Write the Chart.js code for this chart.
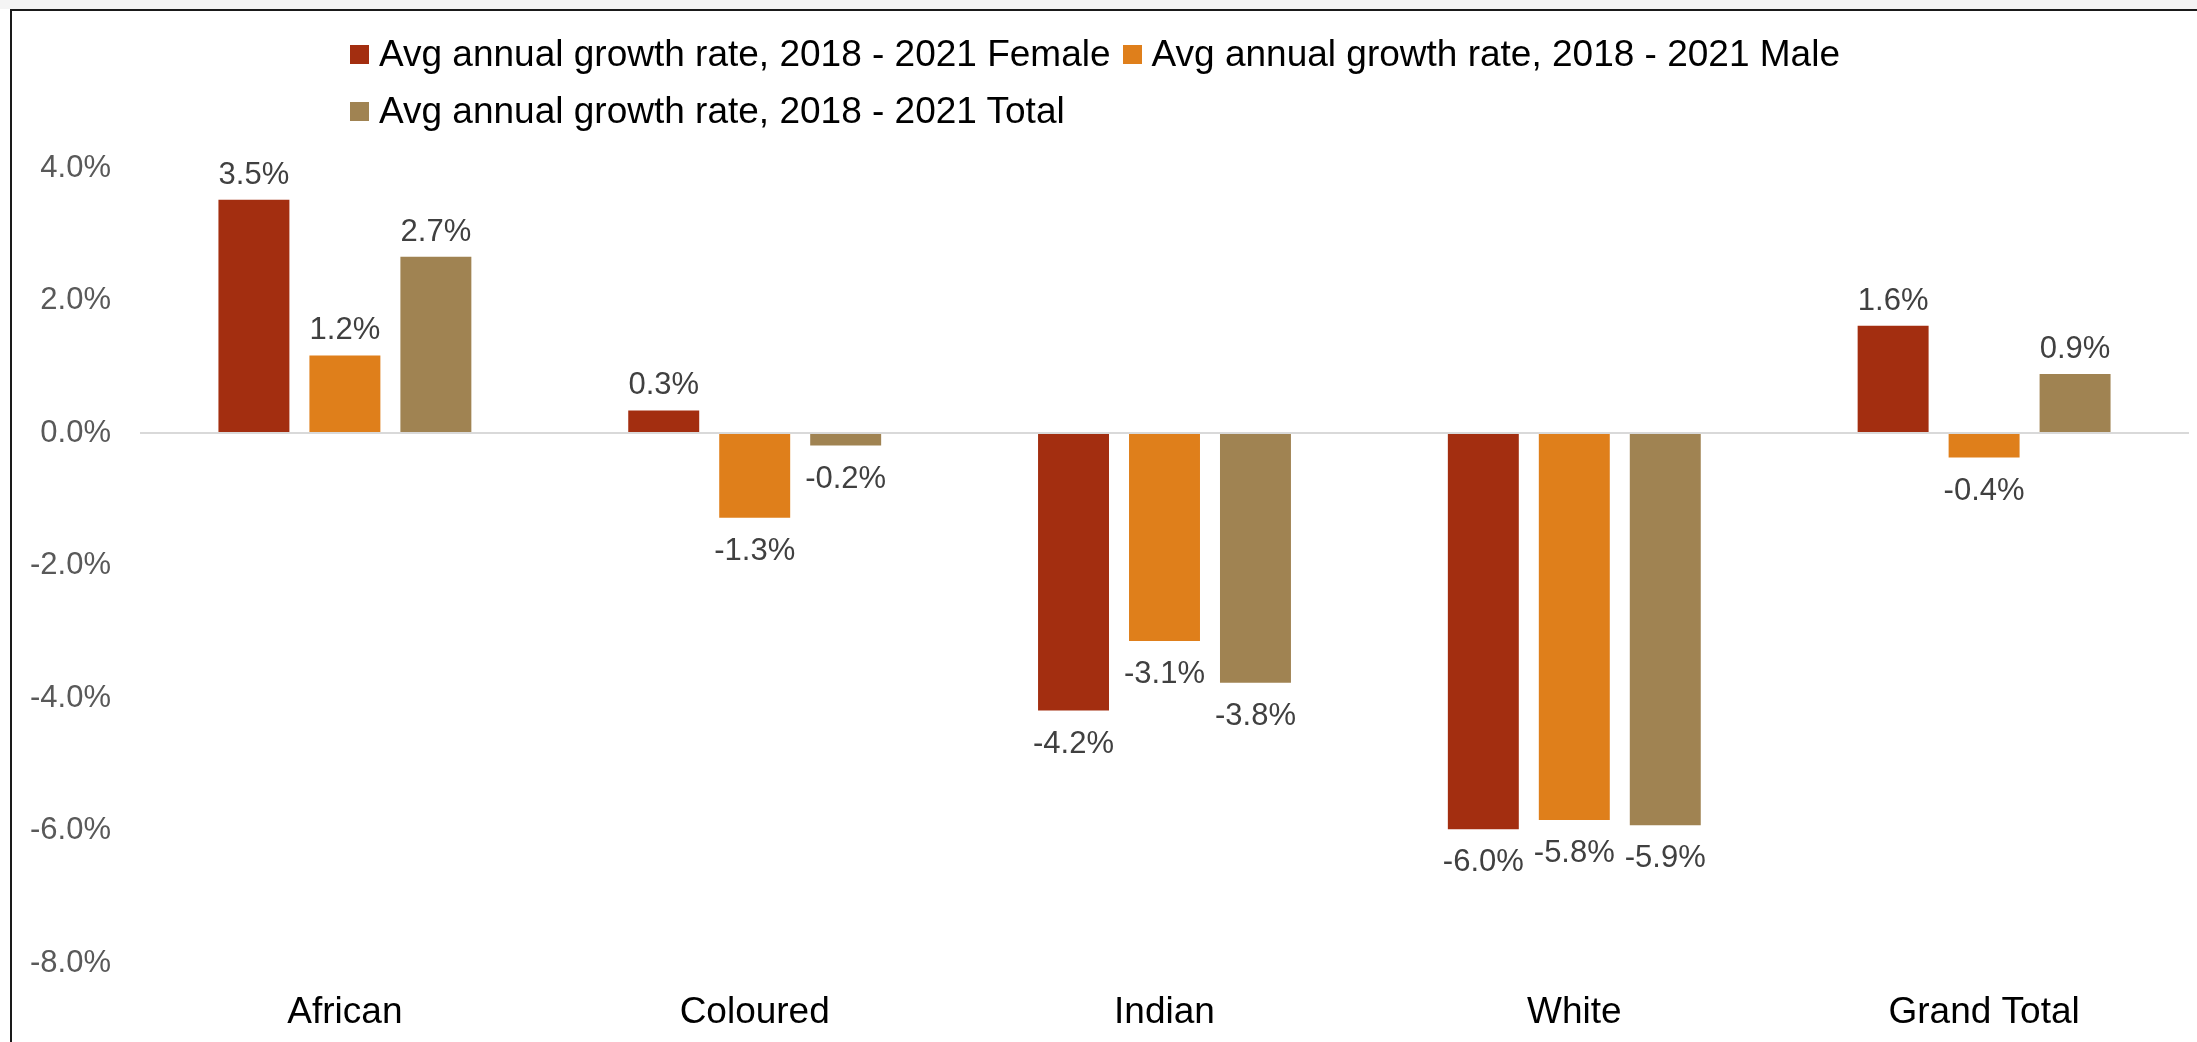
<!DOCTYPE html>
<html>
<head>
<meta charset="utf-8">
<script src="https://cdn.jsdelivr.net/npm/chart.js@4/dist/chart.umd.min.js"></script>
<style>
    html, body { margin: 0; padding: 0; background: #fff; overflow: hidden; }
    body { width: 2197px; height: 1042px; position: relative; font-family: "Liberation Sans", Arial, sans-serif; }
    #grafico { position: absolute; left: 0; top: 0; }
    .faixaTopo { position: absolute; left: 0; top: 0; width: 2197px; height: 9px; background: #f4f4f4; }
    .bordaTopo { position: absolute; left: 10px; top: 9px; width: 2187px; height: 2px; background: #1a1a1a; }
    .bordaEsq { position: absolute; left: 10px; top: 9px; width: 2px; height: 1033px; background: #1a1a1a; }
    #legenda {
        position: absolute; left: 350px; top: 25px; width: 1520px;
        display: flex; flex-wrap: wrap; font-size: 37px; line-height: 57px; color: #000;
    }
    .item { display: flex; align-items: center; margin-right: 12px; white-space: nowrap; }
    .marcador { width: 19px; height: 19px; margin-right: 10px; position: relative; top: 1px; }
</style>
</head>
<body>
<canvas id="grafico" width="2197" height="1042"></canvas>
<div class="faixaTopo"></div>
<div class="bordaTopo"></div>
<div class="bordaEsq"></div>
<div id="legenda"></div>

<script>
// Categorias e séries (taxa média anual de crescimento, %)
const categorias = ['African', 'Coloured', 'Indian', 'White', 'Grand Total'];
const feminino = [3.52, 0.34, -4.19, -5.98, 1.62];
const masculino = [1.17, -1.28, -3.14, -5.84, -0.37];
const total = [2.66, -0.19, -3.77, -5.92, 0.89];

const rotulosSeries = [
    'Avg annual growth rate, 2018 - 2021 Female',
    'Avg annual growth rate, 2018 - 2021 Male',
    'Avg annual growth rate, 2018 - 2021 Total'
];
const cores = ['#a32e10', '#df7f1b', '#a08352'];

const FONTE = '"Liberation Sans", Arial, sans-serif';

const formatarPct = (v) => `${v.toFixed(1)}%`;

// Rótulos de valor na ponta de cada barra
const rotulosValor = {
    id: 'rotulosValor',
    afterDatasetsDraw(chart) {
        const ctx = chart.ctx;
        ctx.save();
        ctx.font = `31px ${FONTE}`;
        ctx.fillStyle = '#404040';
        ctx.textAlign = 'center';
        ctx.textBaseline = 'alphabetic';
        chart.data.datasets.forEach((ds, i) => {
            const meta = chart.getDatasetMeta(i);
            meta.data.forEach((barra, j) => {
                const v = ds.data[j];
                const y = v >= 0 ? barra.y - 16 : barra.y + 42;
                ctx.fillText(formatarPct(v), barra.x, y);
            });
        });
        ctx.restore();
    }
};

const series = [feminino, masculino, total];

new Chart(document.getElementById('grafico'), {
    type: 'bar',
    data: {
        labels: categorias,
        datasets: series.map((dados, i) => ({
            label: rotulosSeries[i],
            data: dados,
            backgroundColor: cores[i],
            borderWidth: 0,
            categoryPercentage: 0.666,
            barPercentage: 0.78
        }))
    },
    options: {
        responsive: false,
        animation: false,
        layout: { padding: { top: 168, right: 8, left: 0, bottom: 0 } },
        plugins: {
            legend: { display: false },
            tooltip: { enabled: false }
        },
        scales: {
            x: {
                grid: { display: false, drawTicks: false },
                border: { display: false },
                ticks: { color: '#000', font: { family: FONTE, size: 37 }, padding: 28 },
                afterFit: (escala) => { escala.height = 79; }
            },
            y: {
                min: -8,
                max: 4,
                border: { display: false },
                grid: {
                    drawTicks: false,
                    lineWidth: 2,
                    color: (c) => (c.tick && c.tick.value === 0 ? '#d9d9d9' : 'rgba(0,0,0,0)')
                },
                ticks: {
                    stepSize: 2,
                    padding: 29,
                    color: '#595959',
                    font: { family: FONTE, size: 31 },
                    callback: (v) => formatarPct(v)
                },
                afterFit: (escala) => { escala.width = 140; }
            }
        }
    },
    plugins: [rotulosValor]
});

// Legenda em HTML, duas linhas alinhadas à esquerda
const legenda = document.getElementById('legenda');
rotulosSeries.forEach((texto, i) => {
    const item = document.createElement('div');
    item.className = 'item';
    const marcador = document.createElement('span');
    marcador.className = 'marcador';
    marcador.style.background = cores[i];
    const rotulo = document.createElement('span');
    rotulo.textContent = texto;
    item.appendChild(marcador);
    item.appendChild(rotulo);
    legenda.appendChild(item);
});
</script>
</body>
</html>
